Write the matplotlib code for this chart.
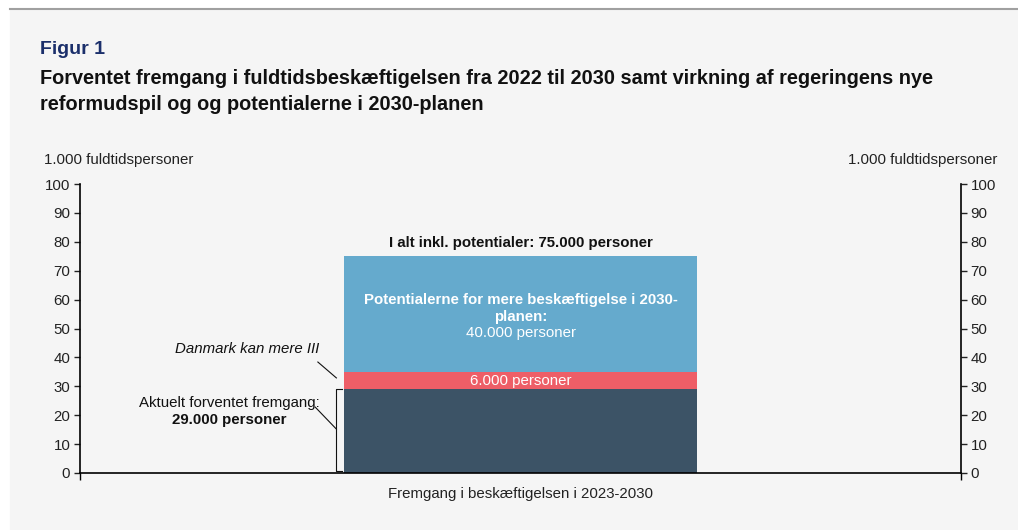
import matplotlib
matplotlib.use("Agg")
import matplotlib.pyplot as plt
from matplotlib import rcParams
from matplotlib.patches import Rectangle
from matplotlib.lines import Line2D

rcParams["font.family"] = ["Liberation Sans", "DejaVu Sans"]

# data (1.000 fuldtidspersoner)
category = ["Fremgang i beskæftigelsen i 2023-2030"]
aktuelt = [29]
dk_kan_mere = [6]
potentialer = [40]
yticks = list(range(0, 101, 10))

C_DARK = "#3c5366"
C_RED = "#ee5e67"
C_BLUE = "#65aacd"
BG = "#f5f5f5"
NAVY = "#1b2f6b"
FS = 10.8

fig = plt.figure(figsize=(10.18, 5.30), dpi=100)
fig.patch.set_facecolor("white")
fig.patches.append(Rectangle((10 / 1018, 0), 1 - 10 / 1018, 1 - 9 / 530,
                             transform=fig.transFigure, color=BG, zorder=-10))
fig.lines.append(Line2D([10 / 1018, 1], [1 - 9 / 530] * 2, transform=fig.transFigure,
                        color="#a0a0a0", linewidth=1.5))

ax = fig.add_axes([80 / 1018, 1 - 473 / 530, 881 / 1018, 289 / 530])
ax.set_facecolor(BG)
x = range(len(category))
ax.bar(x, aktuelt, width=0.4, color=C_DARK)
ax.bar(x, dk_kan_mere, width=0.4, bottom=aktuelt, color=C_RED)
base2 = [a + b for a, b in zip(aktuelt, dk_kan_mere)]
ax.bar(x, potentialer, width=0.4, bottom=base2, color=C_BLUE)
total = [a + b for a, b in zip(base2, potentialer)]

ax.set_xlim(-0.5, 0.5)
ax.set_ylim(0, 100)
ax.set_yticks(yticks)
ax.set_xticks(list(x))
ax.set_xticklabels(category, fontsize=FS)
ax.tick_params(axis="x", length=0, pad=10)
ax.set_xticks([-0.5, 0.5], minor=True)
ax.tick_params(axis="x", which="minor", length=5, width=1)
ax.tick_params(axis="y", labelsize=FS, length=4, width=1, pad=3, colors="#222222")
ax.tick_params(axis="x", colors="#222222")
for s in ("top", "right"):
    ax.spines[s].set_visible(False)
for s in ("left", "bottom"):
    ax.spines[s].set_linewidth(1.2)

ax2 = ax.twinx()
ax2.set_ylim(0, 100)
ax2.set_yticks(yticks)
ax2.tick_params(axis="y", labelsize=FS, length=4, width=1, pad=3, colors="#222222")
for s in ("top", "left", "bottom"):
    ax2.spines[s].set_visible(False)
ax2.spines["right"].set_linewidth(1.2)

# unit labels
fig.text(44 / 1018, 1 - 160 / 530, "1.000 fuldtidspersoner", fontsize=FS,
         color="#222222", ha="left", va="center")
fig.text(997 / 1018, 1 - 160 / 530, "1.000 fuldtidspersoner", fontsize=FS,
         color="#222222", ha="right", va="center")

# titles
fig.text(40 / 1018, 1 - 50 / 530, "Figur 1", fontsize=14, fontweight="bold",
         color=NAVY, ha="left", va="center")
fig.text(40 / 1018, 1 - 78 / 530,
         "Forventet fremgang i fuldtidsbeskæftigelsen fra 2022 til 2030 samt virkning af regeringens nye",
         fontsize=14.3, fontweight="bold", color="#111111", ha="left", va="center")
fig.text(40 / 1018, 1 - 104 / 530, "reformudspil og og potentialerne i 2030-planen",
         fontsize=14.3, fontweight="bold", color="#111111", ha="left", va="center")

# labels in/over bar
ax.text(0, total[0] + 4.5, f"I alt inkl. potentialer: {total[0]}.000 personer",
        ha="center", va="center", fontsize=FS, fontweight="bold", color="#111111")
ax.text(0, 60.0, "Potentialerne for mere beskæftigelse i 2030-", ha="center",
        va="center", fontsize=FS, fontweight="bold", color="white")
ax.text(0, 54.0, "planen:", ha="center", va="center", fontsize=FS,
        fontweight="bold", color="white")
ax.text(0, 48.6, f"{potentialer[0]}.000 personer", ha="center", va="center",
        fontsize=FS, color="white")
ax.text(0, aktuelt[0] + dk_kan_mere[0] / 2, f"{dk_kan_mere[0]}.000 personer",
        ha="center", va="center", fontsize=FS, color="white")

# annotations left of bar
ax.text(-0.228, 42.9, "Danmark kan mere III", ha="right", va="center",
        fontsize=FS, style="italic", color="#111111")
ax.plot([-0.230, -0.209], [38.4, 32.9], color="#111111", linewidth=0.8)

ax.text(-0.331, 24.2, "Aktuelt forventet fremgang:", ha="center", va="center",
        fontsize=FS, color="#111111")
ax.text(-0.331, 18.3, f"{aktuelt[0]}.000 personer", ha="center", va="center",
        fontsize=FS, fontweight="bold", color="#111111")
ax.plot([-0.233, -0.209], [22.8, 15.2], color="#111111", linewidth=0.8)
# bracket
ax.plot([-0.203, -0.209, -0.209, -0.203], [aktuelt[0], aktuelt[0], 0.6, 0.6],
        color="#111111", linewidth=0.8)

fig.savefig("out.png", dpi=100, facecolor=fig.get_facecolor())
